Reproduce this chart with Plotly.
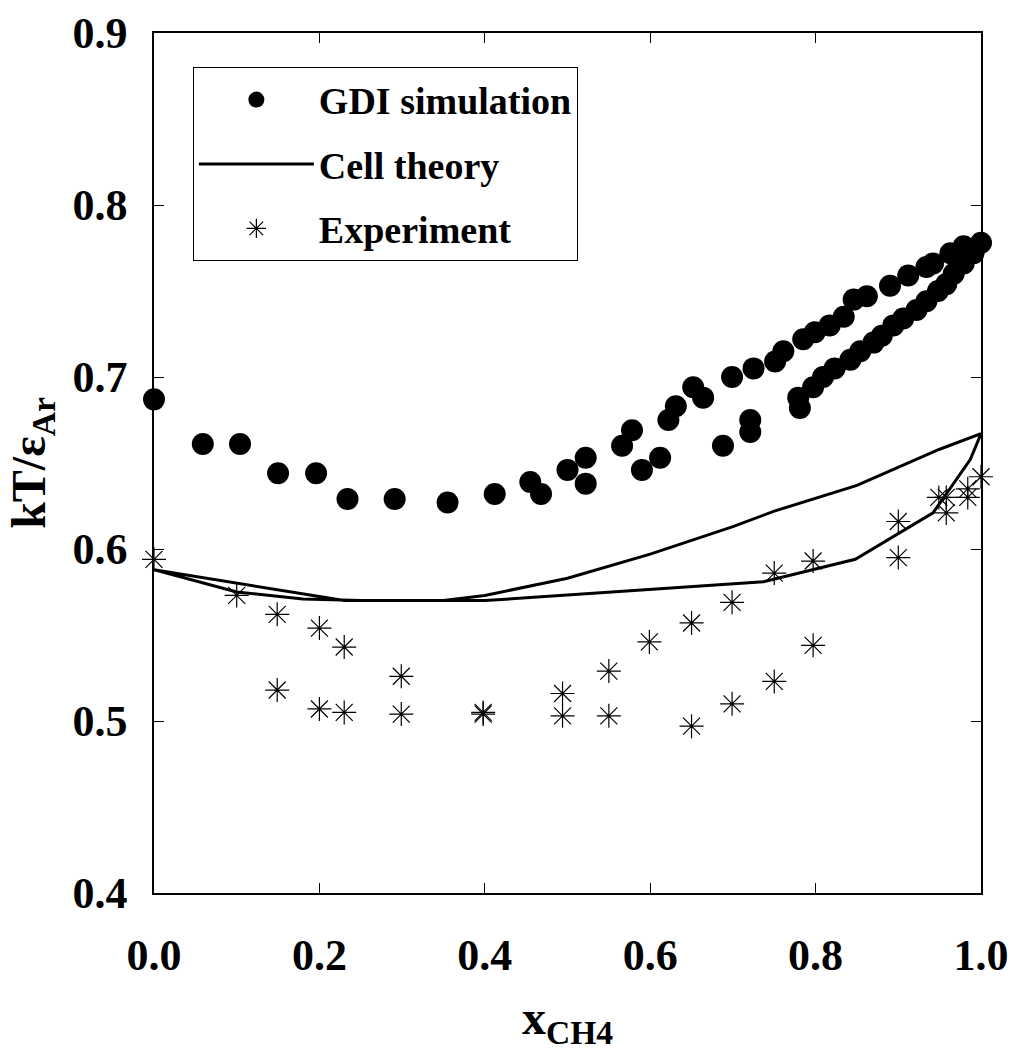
import plotly.graph_objects as go

# GDI simulation
gdi_x = [0.0, 0.059, 0.104, 0.150, 0.196, 0.234, 0.291, 0.355, 0.412, 0.455, 0.468, 0.500,
         0.522, 0.522, 0.566, 0.578, 0.590, 0.612, 0.622, 0.631, 0.652, 0.664, 0.688, 0.699,
         0.721, 0.721, 0.725, 0.751, 0.761, 0.779, 0.781, 0.785, 0.799, 0.817, 0.834, 0.846,
         0.862, 0.890, 0.912, 0.934, 0.942, 0.963, 0.979, 1.0,
         0.797, 0.809, 0.823, 0.842, 0.854, 0.870, 0.880, 0.894, 0.906, 0.922, 0.934, 0.948,
         0.958, 0.967, 0.979, 0.991]
gdi_y = [0.687, 0.661, 0.661, 0.644, 0.644, 0.629, 0.629, 0.627, 0.632, 0.639, 0.632, 0.646,
         0.653, 0.638, 0.660, 0.669, 0.646, 0.653, 0.675, 0.683, 0.694, 0.688, 0.660, 0.700,
         0.675, 0.668, 0.705, 0.709, 0.715, 0.688, 0.682, 0.722, 0.726, 0.730, 0.735, 0.745,
         0.747, 0.753, 0.759, 0.764, 0.766, 0.772, 0.776, 0.778,
         0.694, 0.700, 0.705, 0.710, 0.715, 0.720, 0.724, 0.730, 0.734, 0.739, 0.744, 0.750,
         0.754, 0.760, 0.766, 0.772]

# Cell theory (closed loop: upper branch then lower branch back)
cell_x = [0.0, 0.10, 0.23, 0.35, 0.40, 0.50, 0.60, 0.70, 0.75, 0.85, 0.95, 1.0,
          0.987, 0.942, 0.848, 0.737, 0.40, 0.25, 0.18, 0.10, 0.0]
cell_y = [0.588, 0.580, 0.570, 0.570, 0.573, 0.583, 0.597, 0.613, 0.622, 0.637, 0.658, 0.667,
          0.652, 0.621, 0.594, 0.581, 0.570, 0.570, 0.571, 0.575, 0.588]

# Experiment
exp_x = [0.0, 0.1, 0.149, 0.2, 0.230, 0.149, 0.2, 0.230, 0.299, 0.299, 0.398, 0.398,
         0.494, 0.494, 0.550, 0.550, 0.599, 0.650, 0.650, 0.699, 0.699, 0.750, 0.750,
         0.797, 0.797, 0.900, 0.900, 0.949, 0.958, 0.958, 0.984, 0.984, 1.0]
exp_y = [0.594, 0.573, 0.562, 0.554, 0.543, 0.518, 0.507, 0.505, 0.526, 0.504, 0.504, 0.505,
         0.516, 0.503, 0.529, 0.503, 0.546, 0.557, 0.497, 0.569, 0.510, 0.586, 0.523,
         0.593, 0.544, 0.616, 0.595, 0.630, 0.630, 0.621, 0.635, 0.630, 0.642]

x_ticks = [0.0, 0.2, 0.4, 0.6, 0.8, 1.0]
y_ticks = [0.4, 0.5, 0.6, 0.7, 0.8, 0.9]

FONT = "Liberation Serif"

fig = go.Figure()
fig.add_trace(go.Scatter(x=gdi_x, y=gdi_y, mode="markers", name="GDI simulation",
                         legendgroup="a", cliponaxis=False,
                         marker=dict(symbol="circle", size=22, color="black")))
fig.add_trace(go.Scatter(x=cell_x, y=cell_y, mode="lines", name="Cell theory",
                         legendgroup="b", cliponaxis=False,
                         line=dict(color="black", width=3)))
fig.add_trace(go.Scatter(x=exp_x, y=exp_y, mode="markers", name="Experiment",
                         legendgroup="c", cliponaxis=False,
                         marker=dict(symbol="asterisk-open", size=20, color="black",
                                     line=dict(color="black", width=1.2))))

axis_common = dict(showline=True, linecolor="black", linewidth=1.5, mirror="ticks",
                   ticks="inside", ticklen=10, tickcolor="black", tickwidth=1,
                   showgrid=False, zeroline=False, automargin=False,
                   tickfont=dict(family=FONT, size=44, color="black", weight="bold"))

fig.update_xaxes(range=[0, 1], tickvals=x_ticks, tickformat=".1f",
                 ticklabelstandoff=22,
                 title=dict(text="<b>x<sub>CH4</sub></b>", standoff=30,
                            font=dict(family=FONT, size=48, color="black")),
                 **axis_common)
fig.update_yaxes(range=[0.4, 0.9], tickvals=y_ticks, tickformat=".1f",
                 ticklabelstandoff=16,
                 title=dict(text="<b>kT/ε<sub>Ar</sub></b>", standoff=12,
                            font=dict(family=FONT, size=48, color="black")),
                 **axis_common)

fig.update_layout(
    width=1011, height=1051,
    margin=dict(l=154, r=30, t=33, b=158),
    plot_bgcolor="white", paper_bgcolor="white",
    showlegend=True,
    legend=dict(x=0.047, y=0.960, xanchor="left", yanchor="top",
                bordercolor="black", borderwidth=1, bgcolor="white",
                traceorder="grouped", tracegroupgap=12, itemwidth=115,
                font=dict(family=FONT, size=38, color="black", weight="bold")),
)

fig.write_html("out.html")
